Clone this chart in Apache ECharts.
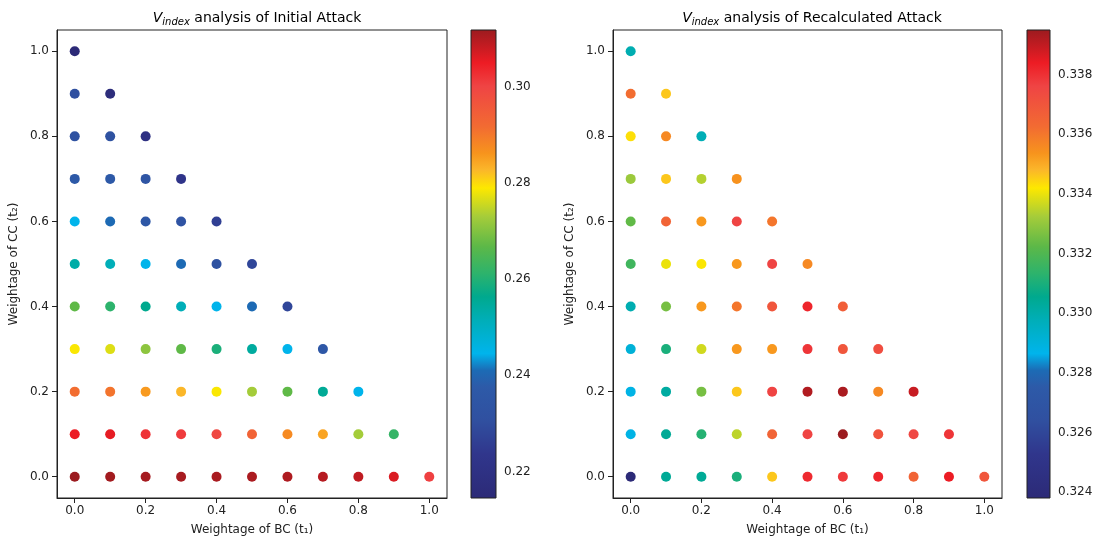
<!DOCTYPE html>
<html><head><meta charset="utf-8">
<script src="https://cdn.jsdelivr.net/npm/echarts@6/dist/echarts.min.js"></script>
<style>html,body{margin:0;padding:0;background:#fff}#c{width:1102px;height:543px}</style>
</head><body><div id="c"></div>
<script>
// Weightage of BC (t1) along x; rows are Weightage of CC (t2) = 0.0 .. 1.0
const bcWeights = [0.0, 0.1, 0.2, 0.3, 0.4, 0.5, 0.6, 0.7, 0.8, 0.9, 1.0];
const ccWeights = [0.0, 0.1, 0.2, 0.3, 0.4, 0.5, 0.6, 0.7, 0.8, 0.9, 1.0];

// V_index of Initial Attack, row i = CC weight ccWeights[i], entries by BC weight
const initialAttack = [
  [0.3118, 0.3112, 0.3110, 0.3108, 0.3106, 0.3104, 0.3102, 0.3095, 0.3088, 0.3065, 0.3005],
  [0.3050, 0.3055, 0.3021, 0.3011, 0.2992, 0.2933, 0.2875, 0.2846, 0.2729, 0.2622],
  [0.2914, 0.2904, 0.2855, 0.2826, 0.2787, 0.2729, 0.2670, 0.2554, 0.2447],
  [0.2787, 0.2768, 0.2709, 0.2670, 0.2593, 0.2544, 0.2447, 0.2359],
  [0.2670, 0.2612, 0.2563, 0.2515, 0.2447, 0.2408, 0.2281],
  [0.2534, 0.2515, 0.2447, 0.2408, 0.2320, 0.2281],
  [0.2447, 0.2408, 0.2359, 0.2330, 0.2262],
  [0.2369, 0.2369, 0.2340, 0.2223],
  [0.2320, 0.2320, 0.2194],
  [0.2310, 0.2164],
  [0.2145]
];

// V_index of Recalculated Attack
const recalculatedAttack = [
  [0.3238, 0.3304, 0.3304, 0.3310, 0.3346, 0.3381, 0.3378, 0.3382, 0.3365, 0.3384, 0.3370],
  [0.3288, 0.3304, 0.3312, 0.3335, 0.3365, 0.3376, 0.3395, 0.3371, 0.3375, 0.3379],
  [0.3288, 0.3302, 0.3326, 0.3346, 0.3376, 0.3392, 0.3393, 0.3356, 0.3389],
  [0.3291, 0.3310, 0.3337, 0.3353, 0.3353, 0.3379, 0.3370, 0.3373],
  [0.3299, 0.3326, 0.3353, 0.3360, 0.3370, 0.3382, 0.3367],
  [0.3317, 0.3340, 0.3342, 0.3353, 0.3376, 0.3356],
  [0.3323, 0.3365, 0.3353, 0.3376, 0.3360],
  [0.3331, 0.3346, 0.3334, 0.3354],
  [0.3343, 0.3356, 0.3298],
  [0.3362, 0.3346],
  [0.3299]
];

const axisTickValues = [0.0, 0.2, 0.4, 0.6, 0.8, 1.0];
const initialCbarTicks = [0.22, 0.24, 0.26, 0.28, 0.30];
const recalcCbarTicks = [0.324, 0.326, 0.328, 0.330, 0.332, 0.334, 0.336, 0.338];
const initialRange = [0.2145, 0.3118];
const recalcRange = [0.3238, 0.3395];

const cmapStops = [
  [0, '#2c2a77'], [0.095, '#30368c'], [0.167, '#3050a0'], [0.238, '#2d5aa8'],
  [0.273, '#1c6bb5'], [0.309, '#00b4ec'], [0.38, '#00aeb8'], [0.43, '#00a98e'],
  [0.48, '#2db36c'], [0.537, '#5cb848'], [0.601, '#a5cc3a'], [0.662, '#fde800'],
  [0.701, '#fbb62a'], [0.736, '#f7941d'], [0.793, '#f26b32'], [0.879, '#ef4444'],
  [0.929, '#ed1c24'], [1, '#9b1b1f']
];

function hex2rgb(h){return [parseInt(h.slice(1,3),16),parseInt(h.slice(3,5),16),parseInt(h.slice(5,7),16)];}
function cmap(f){
  for (let i=1;i<cmapStops.length;i++){
    if (f<=cmapStops[i][0]){
      const a=cmapStops[i-1], b=cmapStops[i];
      const t=(f-a[0])/(b[0]-a[0]);
      const ca=hex2rgb(a[1]), cb=hex2rgb(b[1]);
      return 'rgb('+ca.map((c,k)=>Math.round(c+(cb[k]-c)*t)).join(',')+')';
    }
  }
  return cmapStops[cmapStops.length-1][1];
}
const sampled = [];
for (let i=0;i<=200;i++) sampled.push(cmap(i/200));
const gradientStops = cmapStops.map(s=>({offset:s[0], color:s[1]}));

function toPoints(rows){
  const pts=[];
  rows.forEach((row,i)=>row.forEach((v,j)=>pts.push([bcWeights[j], ccWeights[i], v])));
  return pts;
}

const FONT = 'DejaVu Sans';
const INK = '#222';

function mainX(gi){
  return {type:'value', gridIndex:gi, min:-0.05, max:1.05,
    name:'Weightage of BC (t\u2081)', nameLocation:'middle', nameGap:26,
    nameTextStyle:{fontFamily:FONT, fontSize:12, color:INK},
    axisLine:{show:true, onZero:false, lineStyle:{color:INK, width:1}},
    axisTick:{show:true, customValues:axisTickValues, length:5, lineStyle:{color:INK}},
    axisLabel:{customValues:axisTickValues, formatter:v=>v.toFixed(1), fontFamily:FONT, fontSize:12, color:INK, margin:7},
    splitLine:{show:false}};
}
function mainY(gi){
  return {type:'value', gridIndex:gi, min:-0.05, max:1.05,
    name:'Weightage of CC (t\u2082)', nameLocation:'middle', nameGap:37,
    nameTextStyle:{fontFamily:FONT, fontSize:12, color:INK},
    axisLine:{show:true, onZero:false, lineStyle:{color:INK, width:1}},
    axisTick:{show:true, customValues:axisTickValues, length:5, lineStyle:{color:INK}},
    axisLabel:{customValues:axisTickValues, formatter:v=>v.toFixed(1), fontFamily:FONT, fontSize:12, color:INK, margin:8},
    splitLine:{show:false}};
}
function cbarX(gi){ return {type:'value', gridIndex:gi, min:0, max:1, show:false}; }
function cbarY(gi, range, ticks, dec){
  return {type:'value', gridIndex:gi, min:range[0], max:range[1], position:'right',
    axisLine:{show:false},
    axisTick:{show:true, customValues:ticks, length:4, lineStyle:{color:INK}},
    axisLabel:{customValues:ticks, formatter:v=>v.toFixed(dec), fontFamily:FONT, fontSize:12, color:INK, margin:8},
    splitLine:{show:false}};
}
function cbarSeries(xi, range){
  return {type:'custom', xAxisIndex:xi, yAxisIndex:xi, silent:true, data:[[0]],
    renderItem:(params, api)=>{
      const p0 = api.coord([0, range[0]]);
      const p1 = api.coord([1, range[1]]);
      return {type:'rect', shape:{x:p0[0], y:p1[1], width:p1[0]-p0[0], height:p0[1]-p1[1]},
        style:{fill:{type:'linear', x:0, y:1, x2:0, y2:0, colorStops:gradientStops}, stroke:INK, lineWidth:1}};
    }};
}
function titleOf(text, cx){
  return {text:'{v|V}{s|index} '+text, left:cx, top:5, textAlign:'center',
    textStyle:{fontFamily:FONT, fontSize:14, fontWeight:'normal', color:'#000',
      rich:{v:{fontFamily:FONT, fontStyle:'italic', fontSize:14, color:'#000'},
            s:{fontFamily:FONT, fontStyle:'italic', fontSize:10, color:'#000', padding:[7,0,0,0]}}}};
}

const chart = echarts.init(document.getElementById('c'), null, {renderer:'canvas'});
chart.setOption({
  animation:false,
  backgroundColor:'#fff',
  title:[titleOf('analysis of Initial Attack', 252), titleOf('analysis of Recalculated Attack', 807)],
  grid:[
    {left:57, top:30, width:390, height:468, show:true, borderColor:INK, borderWidth:1, backgroundColor:'transparent'},
    {left:471, top:30, width:25, height:468},
    {left:613, top:30, width:389, height:468, show:true, borderColor:INK, borderWidth:1, backgroundColor:'transparent'},
    {left:1027, top:30, width:23, height:468}
  ],
  xAxis:[mainX(0), cbarX(1), mainX(2), cbarX(3)],
  yAxis:[mainY(0), cbarY(1, initialRange, initialCbarTicks, 2), mainY(2), cbarY(3, recalcRange, recalcCbarTicks, 3)],
  visualMap:[
    {type:'continuous', show:false, seriesIndex:0, dimension:2, min:initialRange[0], max:initialRange[1], inRange:{color:sampled}},
    {type:'continuous', show:false, seriesIndex:2, dimension:2, min:recalcRange[0], max:recalcRange[1], inRange:{color:sampled}}
  ],
  series:[
    {type:'scatter', xAxisIndex:0, yAxisIndex:0, symbolSize:10, data:toPoints(initialAttack), itemStyle:{opacity:1}},
    cbarSeries(1, initialRange),
    {type:'scatter', xAxisIndex:2, yAxisIndex:2, symbolSize:10, data:toPoints(recalculatedAttack), itemStyle:{opacity:1}},
    cbarSeries(3, recalcRange)
  ]
});
</script></body></html>
